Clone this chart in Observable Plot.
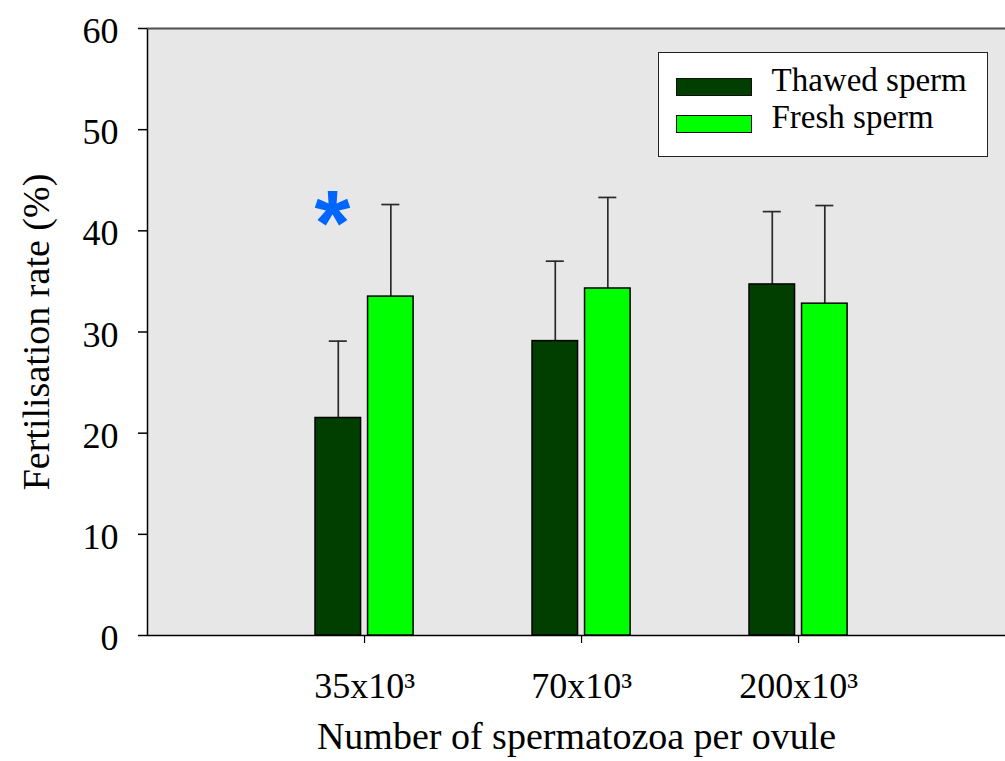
<!DOCTYPE html>
<html><head><meta charset="utf-8">
<script src="https://cdn.jsdelivr.net/npm/d3@7"></script>
<script src="https://cdn.jsdelivr.net/npm/@observablehq/plot@0.6"></script>
<style>
body{margin:0;background:#fff;}
#wrap{position:relative;width:1005px;height:761px;font-family:"Liberation Serif","Times New Roman",serif;}
#wrap svg{position:absolute;left:0;top:0;font-family:"Liberation Serif","Times New Roman",serif;}
#legend{position:absolute;left:658px;top:52px;width:330px;height:105px;box-sizing:border-box;border:1.5px solid #222;background:#fff;padding-top:15px;padding-left:16.5px;}
.row{display:flex;align-items:center;height:37px;}
.sw{width:76px;height:18px;box-sizing:border-box;border:1.5px solid #111;flex:none;}
.lab{margin-left:20px;font-size:33px;color:#000;position:relative;top:-6px;line-height:1;white-space:nowrap;}
</style></head><body><div id="wrap"></div>
<script>
const groups = ["35x10³", "70x10³", "200x10³"];
const series = ["Thawed sperm", "Fresh sperm"];
const thawedMean = [21.5, 29.1, 34.7];
const thawedSD = [7.6, 7.9, 7.2];
const freshMean = [33.5, 34.3, 32.8];
const freshSD = [9.1, 9.0, 9.7];
const colors = ["#003f00", "#00ff00"];
const yTicks = [0, 10, 20, 30, 40, 50, 60];
const yLabel = "Fertilisation rate (%)";
const xLabel = "Number of spermatozoa per ovule";
const significance = [{group: "35x10³", series: "Thawed sperm", y: 40.5, label: "*"}];

const data = [];
groups.forEach((g, i) => {
  data.push({group: g, series: series[0], value: thawedMean[i], sd: thawedSD[i]});
  data.push({group: g, series: series[1], value: freshMean[i], sd: freshSD[i]});
});

const serif = '"Liberation Serif","Times New Roman",serif';
const layout = {width: 1005, height: 761, marginLeft: 147, marginRight: 0, marginTop: 28, marginBottom: 126};
const groupScale = {type: "band", domain: groups, paddingInner: 0.548, paddingOuter: 0.751, align: 0.5155, round: false};

// Base layer: plot area, axes and axis titles
const base = Plot.plot({
  ...layout,
  style: {fontFamily: serif, background: "white", color: "black"},
  x: groupScale,
  y: {domain: [0, 60]},
  marks: [
    Plot.frame({fill: "#e7e7e7", stroke: "#000", strokeWidth: 1.5, insetRight: -4}),
    Plot.ruleY([60], {stroke: "#555", strokeWidth: 1.6}),
    Plot.axisY(yTicks, {anchor: "left", tickSize: 9, tickFormat: () => "", label: null, strokeWidth: 1.5}),
    Plot.axisY(yTicks, {anchor: "left", tickSize: 0, tickPadding: 29, dy: 3, fontSize: 36, fontFamily: serif, label: null}),
    Plot.axisY({anchor: "left", ticks: [], tickSize: 0, label: yLabel, labelAnchor: "center", labelArrow: "none", labelOffset: 125, fontSize: 38, fontFamily: serif}),
    Plot.axisX({anchor: "bottom", tickSize: 8, tickPadding: 29, fontSize: 36, fontFamily: serif, label: null, stroke: "black", strokeWidth: 1.2}),
    Plot.axisX({anchor: "bottom", ticks: [], tickSize: 0, label: xLabel, labelAnchor: "center", labelArrow: "none", labelOffset: 113, fontSize: 38, fontFamily: serif})
  ]
});

// Data layer: grouped bars with error bars, faceted by group
const bars = Plot.plot({
  ...layout,
  style: {fontFamily: serif, background: "transparent", color: "black", pointerEvents: "none"},
  fx: {...groupScale, axis: null},
  x: {domain: series, paddingInner: 0.133, paddingOuter: 0, round: false, axis: null},
  y: {domain: [0, 60], axis: null},
  color: {domain: series, range: colors},
  marks: [
    Plot.ruleX(data, {fx: "group", x: "series", y1: "value", y2: d => d.value + d.sd, stroke: "#2a2a2a", strokeWidth: 1.7}),
    Plot.tickY(data, {fx: "group", x: "series", y: d => d.value + d.sd, stroke: "#2a2a2a", strokeWidth: 1.7, insetLeft: 13.75, insetRight: 13.75}),
    Plot.barY(data, {fx: "group", x: "series", y: "value", fill: "series", stroke: "black", strokeWidth: 1.5}),
    Plot.text(significance, {fx: "group", x: "series", y: "y", text: "label", fill: "#0066ff", fontSize: 92, fontWeight: "bold", fontFamily: '"Liberation Sans",Arial,sans-serif', dx: -6})
  ]
});

const wrap = document.getElementById("wrap");
wrap.appendChild(base);
wrap.appendChild(bars);

const legend = document.createElement("div");
legend.id = "legend";
series.forEach((s, i) => {
  const row = document.createElement("div");
  row.className = "row";
  const sw = document.createElement("div");
  sw.className = "sw";
  sw.style.background = colors[i];
  const lab = document.createElement("span");
  lab.className = "lab";
  lab.textContent = s;
  row.appendChild(sw);
  row.appendChild(lab);
  legend.appendChild(row);
});
wrap.appendChild(legend);
</script>
</body></html>
